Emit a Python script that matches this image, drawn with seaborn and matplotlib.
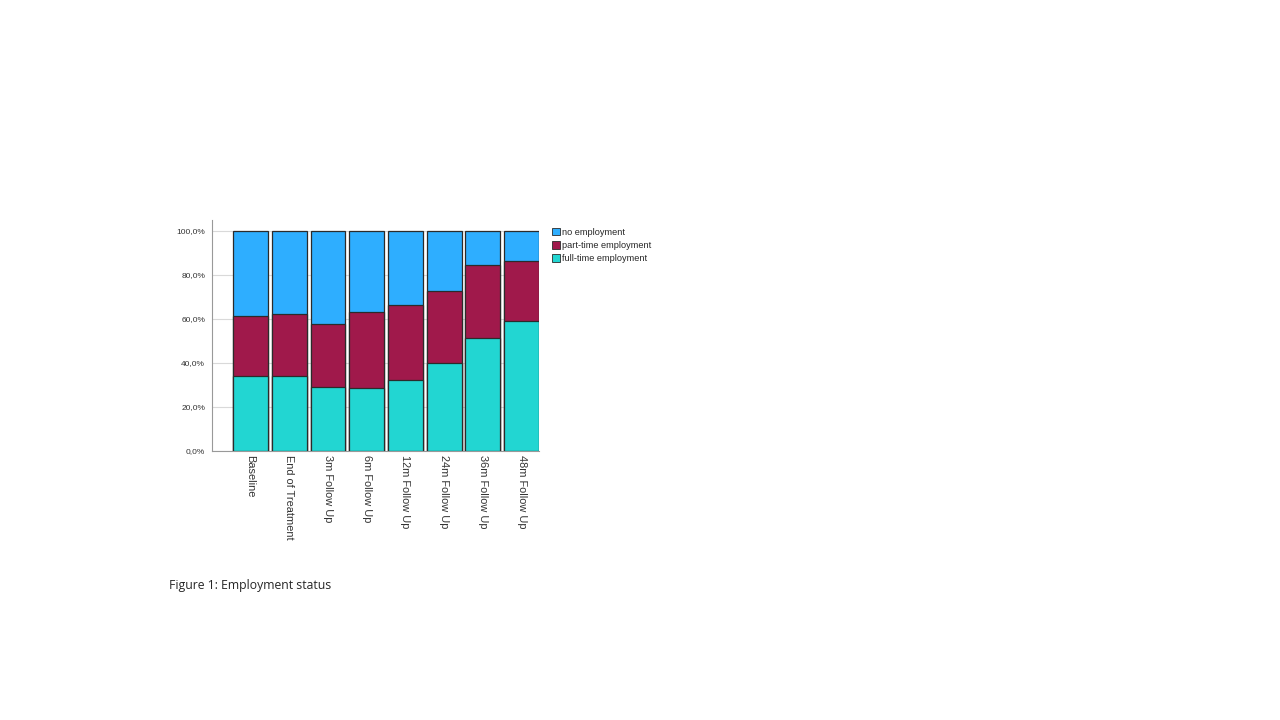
import matplotlib
matplotlib.use('Agg')
import matplotlib.pyplot as plt
from matplotlib.patches import Patch
import seaborn as sns
import pandas as pd

sns.set_style('white')
plt.rcParams['font.family'] = ['Liberation Sans', 'DejaVu Sans']

# data (percent of patients)
stages = ['Baseline', 'End of Treatment', '3m Follow Up', '6m Follow Up',
          '12m Follow Up', '24m Follow Up', '36m Follow Up', '48m Follow Up']
full_time = [33.9, 34.1, 28.9, 28.8, 32.4, 40.0, 51.2, 58.9]
part_time = [27.3, 28.0, 29.0, 34.4, 34.0, 32.7, 33.3, 27.5]
no_employment = [100 - f - p for f, p in zip(full_time, part_time)]

series_names = ['no employment', 'part-time employment', 'full-time employment']
colors = {'no employment': '#2EAEFF',
          'part-time employment': '#A0194B',
          'full-time employment': '#22D6D2'}

df = pd.DataFrame({'stage': stages,
                   'full': full_time,
                   'part': part_time,
                   'none': no_employment})
df['cum_part'] = df['full'] + df['part']
df['cum_none'] = df['cum_part'] + df['none']

fig = plt.figure(figsize=(12.8, 7.2), dpi=100)
ax = fig.add_axes([212 / 1280, 1 - 451 / 720, 327 / 1280, 231 / 720])

bar_kw = dict(width=0.9, edgecolor='#2b2b2b', linewidth=0.9, order=stages,
              saturation=1, zorder=3)
sns.barplot(data=df, x='stage', y='cum_none', color=colors['no employment'], ax=ax, **bar_kw)
sns.barplot(data=df, x='stage', y='cum_part', color=colors['part-time employment'], ax=ax, **bar_kw)
sns.barplot(data=df, x='stage', y='full', color=colors['full-time employment'], ax=ax, **bar_kw)

ax.set_xlim(-0.995, 7.45)
ax.set_ylim(0, 105)
ax.set_yticks([0, 20, 40, 60, 80, 100])
ax.set_yticklabels([f'{v:.1f}%'.replace('.', ',') for v in [0, 20, 40, 60, 80, 100]],
                   fontsize=6, color='#333333')
ax.set_xticks(range(len(stages)))
ax.set_xticklabels(stages, rotation=270, fontsize=7.9, color='#333333', va='top', ha='center')
ax.set_xlabel('')
ax.set_ylabel('')
ax.yaxis.grid(True, color='#d9d9d9', linewidth=0.8, zorder=0)
ax.set_axisbelow(True)
ax.tick_params(axis='y', length=3, color='#999999', pad=2)
ax.tick_params(axis='x', length=0, pad=3)
for side in ['top', 'right']:
    ax.spines[side].set_visible(False)
for side in ['left', 'bottom']:
    ax.spines[side].set_color('#999999')
    ax.spines[side].set_linewidth(0.8)

handles = [Patch(facecolor=colors[n], edgecolor='#2b2b2b', linewidth=0.6, label=n)
           for n in series_names]
fig.legend(handles=handles, loc='upper left', bbox_to_anchor=(550 / 1280, 1 - 226 / 720),
           frameon=False, fontsize=6.6, handlelength=0.85, handleheight=0.9,
           handletextpad=0.25, labelspacing=0.45, borderaxespad=0, borderpad=0.2)

fig.text(169 / 1280, 1 - 585 / 720, 'Figure 1: Employment status',
         fontsize=8.8, family=['Open Sans', 'DejaVu Sans'], va='center', ha='left')

fig.savefig('out.png', dpi=100)
